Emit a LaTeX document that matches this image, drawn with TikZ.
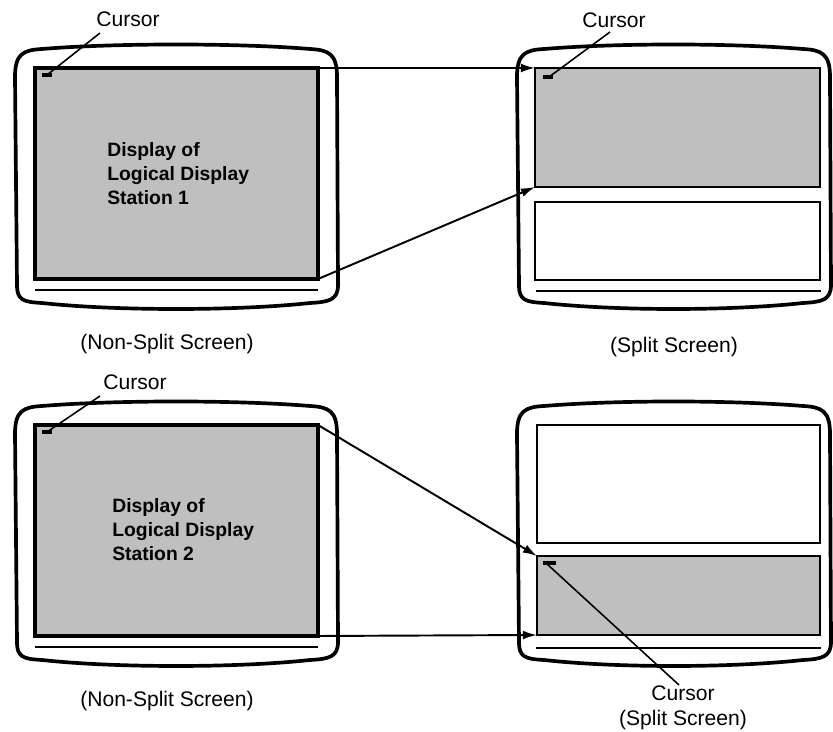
\documentclass[tikz,border=0pt]{standalone}
\usepackage{fontspec}
\setmainfont{Liberation Sans}
\usetikzlibrary{arrows.meta}

\begin{document}
\begin{tikzpicture}[x=0.02cm,y=-0.02cm,>={Latex[length=8pt,width=5pt]},
  case/.style={line width=2.1pt,line join=round},
  lit/.style={fill=black!25,draw,line width=2pt},
  dark/.style={fill=white,draw,line width=1.4pt},
  lbl/.style={font=\fontsize{12}{14}\selectfont,inner sep=0pt},
  txt/.style={font=\fontsize{11}{13.6}\selectfont\bfseries,align=left,anchor=north west,inner sep=0pt},
  lead/.style={line width=0.9pt},
  link/.style={->,line width=1.1pt}]
  \useasboundingbox (0,0) rectangle (833,732);
  % monitor cases, both rows
  \foreach \dy in {0,357} {
    \foreach \xa/\xb in {15/337,517/830} {
      \draw[case] (\xa,77+\dy) .. controls (\xa,54+\dy) and (\xa+8,50+\dy) .. (\xa+27,49+\dy)
        .. controls (\xa+100,43+\dy) and (\xb-100,43+\dy) .. (\xb-27,49+\dy)
        .. controls (\xb-8,50+\dy) and (\xb,54+\dy) .. (\xb,77+\dy)
        -- (\xb+1,285+\dy) .. controls (\xb+1,300+\dy) and (\xb-8,302+\dy) .. (\xb-27,303+\dy)
        .. controls (\xb-100,311+\dy) and (\xa+100,311+\dy) .. (\xa+27,303+\dy)
        .. controls (\xa+8,302+\dy) and (\xa+2,300+\dy) .. (\xa+2,285+\dy) -- cycle;
    }
    \draw[line width=1.2pt] (35,290+\dy) -- (318,290+\dy);
    \draw[line width=1.2pt] (536,291+\dy) -- (821,291+\dy);
  }
  % screens
  \draw[lit] (35,68) rectangle (318,279); \coordinate (ane) at (318,68); \coordinate (ase) at (318,279);
  \draw[lit,line width=1.4pt] (535,68) coordinate (bnw) rectangle (820,187); \coordinate (bsw) at (535,187);
  \draw[dark] (535,202) rectangle (820,280);
  \draw[lit] (35,425) rectangle (318,636); \coordinate (cne) at (318,425); \coordinate (cse) at (318,636);
  \draw[dark] (537,425) rectangle (820,543);
  \draw[lit,line width=1.4pt] (537,556) coordinate (dnw) rectangle (820,635); \coordinate (dsw) at (537,635);
  \node[txt] (txa) at (107,142) {Display of\\Logical Display\\Station 1};
  \node[txt] (txb) at (112,498) {Display of\\Logical Display\\Station 2};
  % cursors
  \coordinate (ca) at (47,75); \draw[line width=2.2pt] (42,75) -- (52,75);
  \coordinate (cb) at (549,77); \draw[line width=2.2pt] (543,77) -- (553,77);
  \coordinate (cc) at (47,432); \draw[line width=2.2pt] (42,432) -- (52,432);
  \coordinate (cd) at (547,564); \draw[line width=2.2pt] (543,563) -- (556,563);
  \node[lbl] (la) at (128,19) {Cursor};
  \node[lbl] (lb) at (614,20) {Cursor};
  \node[lbl] (lc) at (135,382) {Cursor};
  \node[lbl,align=center] (ld) at (683,708) {Cursor\\(Split Screen)};
  \draw[lead] (100,33) -- (ca); \draw[lead] (610,32) -- (cb);
  \draw[lead] (100,396) -- (cc); \draw[lead] (cd) -- (679,685);
  % mapping arrows
  \draw[link] (ane) -- (bnw); \draw[link] (ase) -- (bsw);
  \draw[link] (cne) -- (dnw); \draw[link] (cse) -- (dsw);
  \node[lbl] (na) at (167,344) {(Non-Split Screen)};
  \node[lbl] (sa) at (674,347) {(Split Screen)};
  \node[lbl] (nb) at (167,701) {(Non-Split Screen)};
\end{tikzpicture}
\end{document}
